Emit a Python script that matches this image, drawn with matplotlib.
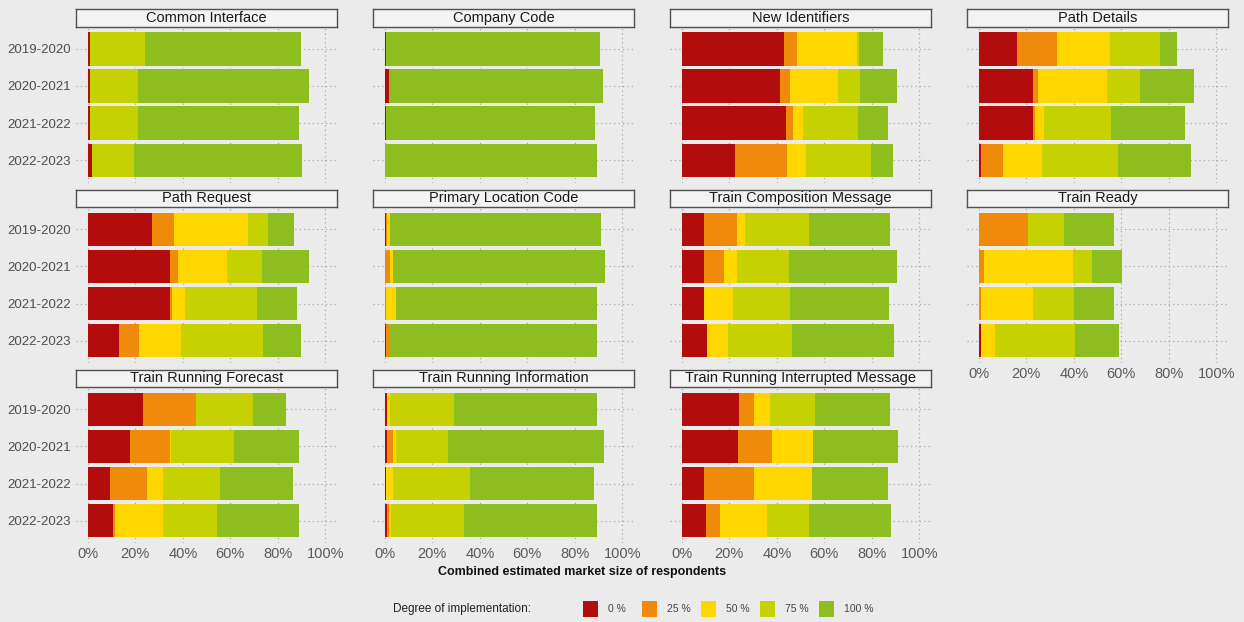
import numpy as np
import matplotlib.pyplot as plt
from matplotlib.patches import Rectangle

plt.rcParams['font.family'] = ['Liberation Sans', 'DejaVu Sans']

years = ['2019-2020', '2020-2021', '2021-2022', '2022-2023']
modules = ['Common Interface', 'Company Code', 'New Identifiers', 'Path Details',
           'Path Request', 'Primary Location Code', 'Train Composition Message', 'Train Ready',
           'Train Running Forecast', 'Train Running Information', 'Train Running Interrupted Message']
levels = ['0 %', '25 %', '50 %', '75 %', '100 %']
colors = ['#b20c0c', '#f08a0a', '#fed600', '#c5d100', '#8dbd1e']

# share of market (%) per module, one row per year
impl_0 = [[1.0, 1.0, 1.0, 1.8], [0.4, 1.8, 0.4, 0.0], [43.2, 41.5, 43.9, 22.3], [16.2, 22.8, 22.8, 0.8],
          [27.0, 34.8, 34.8, 13.0], [0.4, 0.2, 0.0, 0.6], [9.4, 9.4, 9.4, 10.6], [0.0, 0.0, 0.0, 1.1],
          [23.2, 17.9, 9.4, 10.6], [0.7, 0.7, 0.5, 1.0], [24.2, 23.7, 9.2, 10.1]]
impl_25 = [[0.0, 0.0, 0.0, 0.0], [0.0, 0.0, 0.0, 0.0], [5.4, 4.2, 2.8, 22.1], [16.6, 2.1, 0.8, 9.4],
           [9.3, 3.0, 0.8, 8.6], [0.6, 2.0, 0.3, 1.0], [13.8, 8.2, 0.0, 0.0], [20.7, 2.1, 0.7, 0.0],
           [22.3, 16.9, 15.5, 0.7], [0.4, 2.8, 0.0, 0.6], [6.1, 14.1, 21.1, 5.8]]
impl_50 = [[0.0, 0.0, 0.0, 0.0], [0.0, 0.0, 0.0, 0.0], [25.4, 20.0, 4.4, 8.0], [22.4, 29.0, 3.8, 16.5],
           [31.3, 20.7, 5.2, 17.5], [1.1, 1.4, 4.3, 0.3], [3.5, 5.6, 12.1, 8.9], [0.0, 37.7, 22.3, 5.6],
           [0.0, 0.4, 6.8, 20.4], [1.0, 1.4, 3.1, 0.8], [6.8, 17.5, 24.6, 20.0]]
impl_75 = [[23.0, 20.0, 20.0, 17.6], [0.0, 0.0, 0.0, 0.0], [0.7, 9.2, 23.2, 27.5], [21.1, 14.1, 28.2, 32.1],
           [8.5, 14.8, 30.3, 34.9], [0.0, 0.0, 0.0, 0.0], [26.8, 22.1, 24.2, 26.8], [15.2, 8.0, 17.2, 33.8],
           [24.2, 26.5, 23.9, 22.8], [27.2, 21.8, 32.1, 31.1], [18.9, 0.0, 0.0, 17.6]]
impl_100 = [[66.0, 72.0, 68.0, 71.0], [90.3, 90.2, 88.3, 89.4], [10.1, 15.9, 12.5, 8.9], [7.3, 22.7, 31.3, 30.6],
            [10.6, 20.0, 16.9, 15.8], [88.9, 89.0, 84.6, 87.5], [34.2, 45.5, 41.4, 43.2], [21.1, 12.7, 16.9, 18.7],
            [13.8, 27.2, 31.0, 34.6], [59.9, 65.5, 52.4, 55.9], [31.8, 35.6, 32.0, 34.8]]
shares = [impl_0, impl_25, impl_50, impl_75, impl_100]

W, H = 1244, 622
bg = '#ebebeb'
fig = plt.figure(figsize=(W / 100, H / 100), dpi=100)
fig.patch.set_facecolor(bg)


def px_axes(left, top, w, h):
    return fig.add_axes([left / W, 1 - (top + h) / H, w / W, h / H])


col_left = [76, 373, 670, 967]
row_top = [26.5, 207, 387]
pw, ph, sh = 261, 156, 17.5

for i, name in enumerate(modules):
    r, c = divmod(i, 4)
    ax = px_axes(col_left[c], row_top[r], pw, ph)
    ax.set_facecolor(bg)
    y = np.arange(len(years))
    left = np.zeros(len(years))
    for k in range(len(levels)):
        vals = np.array(shares[k][i], dtype=float)
        ax.barh(y, vals, left=left, height=0.9, color=colors[k], zorder=2)
        left += vals
    ax.set_xlim(-5, 105)
    ax.set_ylim(3.6, -0.6)
    ax.set_xticks(range(0, 101, 20))
    ax.set_yticks(y)
    ax.grid(True, linestyle=(0, (1, 2.5)), color='#a8a8a8', lw=0.9, zorder=0)
    ax.set_axisbelow(True)
    for s in ax.spines.values():
        s.set_visible(False)
    ax.tick_params(length=0)
    if c == 0:
        ax.set_yticklabels(years, fontsize=9.5, color='#4d4d4d')
        ax.tick_params(axis='y', pad=4)
    else:
        ax.set_yticklabels([])
    if r == 2 or (r == 1 and c == 3):
        ax.set_xticklabels([f'{v}%' for v in range(0, 101, 20)], fontsize=10.5, color='#5a5a5a')
        ax.tick_params(axis='x', pad=3)
    else:
        ax.set_xticklabels([])

    sax = px_axes(col_left[c], row_top[r] - sh, pw, sh)
    sax.set_facecolor('#f3f3f3')
    sax.set_xticks([])
    sax.set_yticks([])
    for s in sax.spines.values():
        s.set_color('#505050')
        s.set_linewidth(1.0)
    sax.text(0.5, 0.5, name, ha='center', va='center', fontsize=10.5, color='#1a1a1a',
             transform=sax.transAxes)

fig.text(582 / W, 1 - 572 / H, 'Combined estimated market size of respondents',
         ha='center', va='center', fontsize=9, fontweight='bold', color='#111111')

ly = 609
fig.text(531 / W, 1 - ly / H, 'Degree of implementation:', ha='right', va='center',
         fontsize=8.5, color='#222222')
for k, lab in enumerate(levels):
    kx = 583 + 59 * k
    fig.add_artist(Rectangle((kx / W, 1 - (ly + 8) / H), 15 / W, 16 / H,
                             transform=fig.transFigure, facecolor=colors[k], edgecolor='none'))
    fig.text((kx + 25) / W, 1 - ly / H, lab, ha='left', va='center', fontsize=7.5, color='#444444')

fig.savefig('out.png', dpi=100, facecolor=bg)
